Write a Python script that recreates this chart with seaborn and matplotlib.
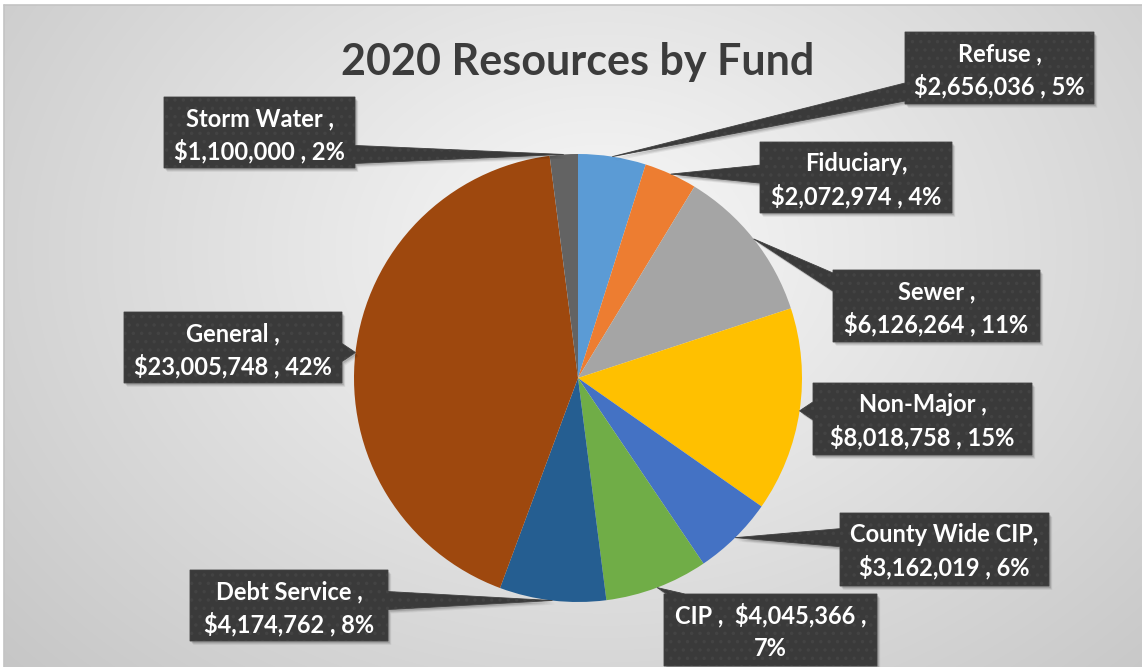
import numpy as np
import matplotlib
matplotlib.use("Agg")
import matplotlib.pyplot as plt
from matplotlib.patches import Polygon
import seaborn as sns

# ---- data -------------------------------------------------------------
funds = ["Refuse", "Fiduciary", "Sewer", "Non-Major", "County Wide CIP",
         "CIP", "Debt Service", "General", "Storm Water"]
resources = [2656036, 2072974, 6126264, 8018758, 3162019,
             4045366, 4174762, 23005748, 1100000]
name_sep = [" ,", ",", " ,", " ,", ",", " ,", " ,", " ,", " ,"]
fund_colors = ["#5B9BD5", "#ED7D31", "#A5A5A5", "#FFC000", "#4472C4",
               "#70AD47", "#255E91", "#9E480E", "#636363"]
title = "2020 Resources by Fund"

# ---- layout (pixel units, y measured downward) -------------------------
W, H = 1142, 667
pie_cx, pie_cy, pie_r = 578, 378, 224
# label boxes: left, top, right, bottom, side carrying the pointer
boxes = [
    (905, 32, 1094, 104, "L"),
    (760, 142, 952, 213, "L"),
    (833, 270, 1040, 342, "L"),
    (813, 383, 1032, 455, "L"),
    (840, 513, 1049, 586, "L"),
    (664, 594, 877, 666, "T"),
    (190, 570, 388, 641, "R"),
    (124, 312, 342, 383, "R"),
    (164, 97, 355, 168, "R"),
]

sns.set_theme(style="white")
plt.rcParams["font.family"] = ["Lato", "DejaVu Sans"]
plt.rcParams["hatch.linewidth"] = 1.3

fig = plt.figure(figsize=(W / 100, H / 100), dpi=100)
fig.patch.set_facecolor("white")
ax = fig.add_axes([0, 0, 1, 1])

# soft radial background
yy, xx = np.mgrid[0:H, 0:W]
d = np.sqrt(((xx - 600) / 650.0) ** 2 + ((yy - 250) / 500.0) ** 2)
shade = np.clip(0.975 - 0.16 * d, 0.0, 1.0)
bg = np.dstack([shade, shade, shade])
bg[:5, :, :] = 1.0
bg[:, :4, :] = 1.0
ax.imshow(bg, extent=(0, W, H, 0), origin="upper", zorder=0,
          interpolation="bilinear")
ax.plot([4, W], [5, 5], color="#c4c4c4", lw=1.2, zorder=1)
ax.plot([4, 4], [5, H], color="#c4c4c4", lw=1.2, zorder=1)

# pie: starts at 12 o'clock, runs clockwise (y axis points down)
wedges, _ = ax.pie(resources, colors=fund_colors, startangle=-90,
                   counterclock=True, center=(pie_cx, pie_cy), radius=pie_r,
                   wedgeprops=dict(linewidth=0), frame=True)
for w in wedges:
    w.set_zorder(2)

total = float(sum(resources))
fracs = np.array(resources) / total
cum = np.concatenate([[0.0], np.cumsum(fracs)])
mid = (cum[:-1] + cum[1:]) / 2 * 2 * np.pi


def callout_poly(box, tip):
    l, t, r, b, side = box
    hw = 9
    if side == "L":
        yc = min(max(tip[1], t + 12), b - 12)
        return [(l, t), (r, t), (r, b), (l, b), (l, yc + hw), tip, (l, yc - hw)]
    if side == "R":
        yc = min(max(tip[1], t + 12), b - 12)
        return [(l, t), (r, t), (r, yc - hw), tip, (r, yc + hw), (r, b), (l, b)]
    if side == "T":
        xc = min(max(tip[0], l + 12), r - 12)
        return [(l, t), (xc - hw, t), tip, (xc + hw, t), (r, t), (r, b), (l, b)]
    xc = min(max(tip[0], l + 12), r - 12)
    return [(l, t), (r, t), (r, b), (xc + hw, b), tip, (xc - hw, b), (l, b)]


for i, (name, val) in enumerate(zip(funds, resources)):
    ang = mid[i]
    tip = (pie_cx + pie_r * np.sin(ang), pie_cy - pie_r * np.cos(ang))
    pts = callout_poly(boxes[i], tip)
    for k, a in zip((4, 3, 2), (0.06, 0.09, 0.12)):
        sh = [(x + k * 0.8, y + k) for x, y in pts]
        ax.add_patch(Polygon(sh, closed=True, facecolor="black", alpha=a,
                             edgecolor="none", zorder=3))
    ax.add_patch(Polygon(pts, closed=True, facecolor="#3a3a3a",
                         edgecolor="#434343", hatch="..", linewidth=0.6,
                         zorder=4))
    l, t, r, b, _ = boxes[i]
    pct = int(round(val / total * 100))
    line1 = f"{name}{name_sep[i]}"
    line2 = f"${val:,} , {pct}%"
    if name == "CIP":
        line1, line2 = f"{line1}  ${val:,} ,", f"{pct}%"
    xc = (l + r) / 2
    for dy, s in ((29, line1), (62, line2)):
        ax.text(xc, t + dy, s, color="white", fontsize=17, fontweight="bold",
                ha="center", va="baseline", zorder=5)

ax.text(578, 75, title, color="#3c3c3c", fontsize=31, fontweight="bold",
        ha="center", va="baseline", zorder=5)

ax.set_xlim(0, W)
ax.set_ylim(H, 0)
ax.set_aspect("auto")
ax.axis("off")

fig.savefig("out.png", dpi=100)
